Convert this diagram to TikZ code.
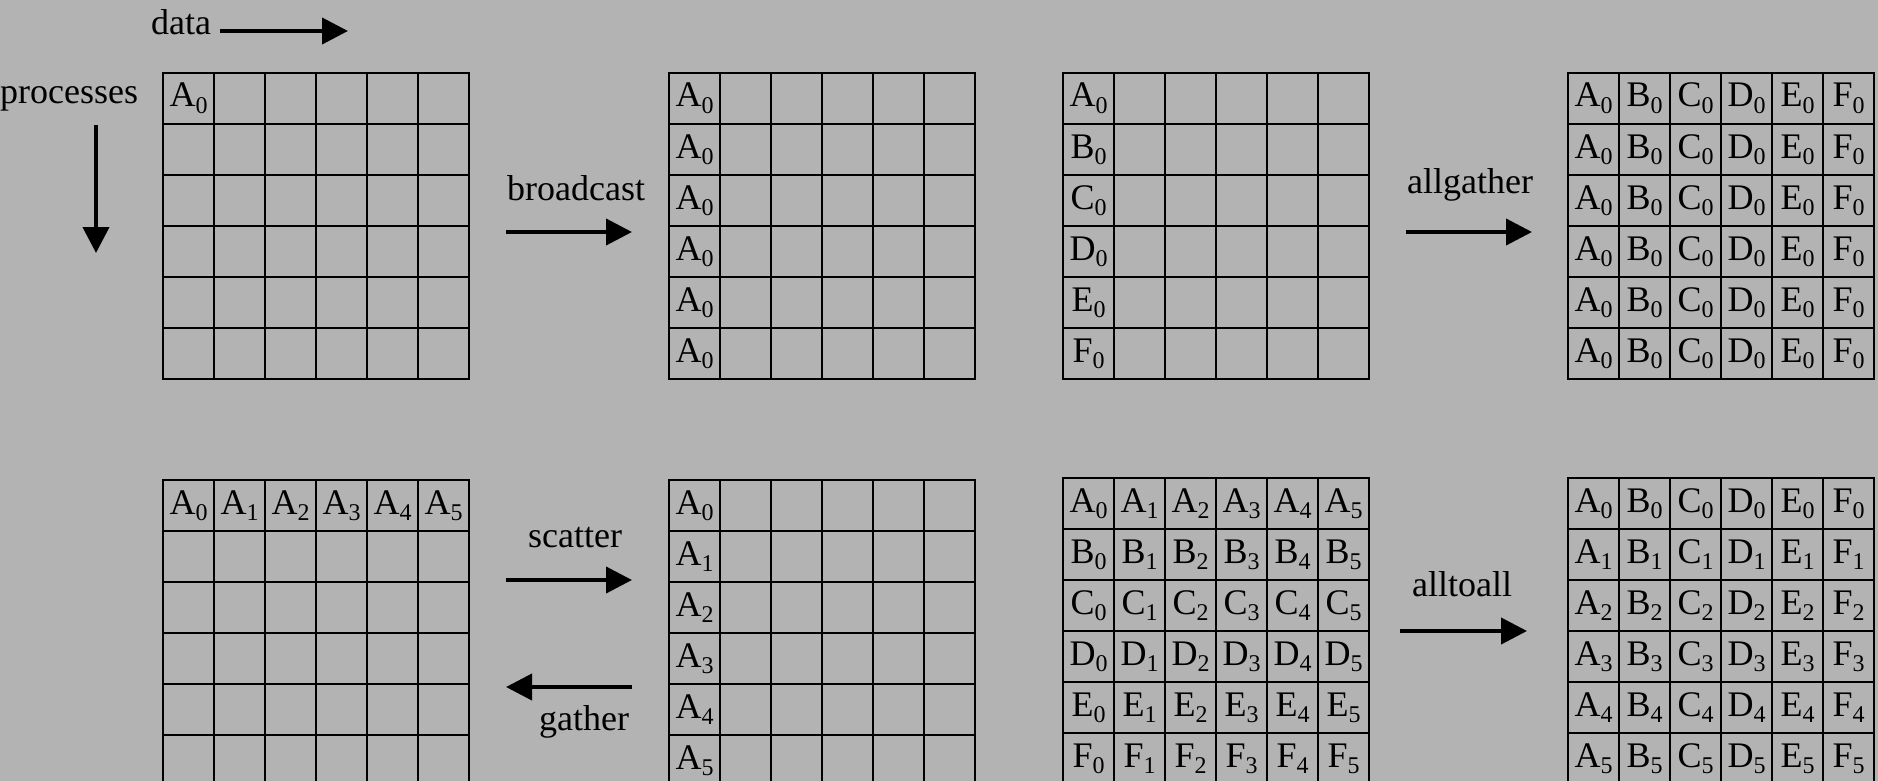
\documentclass[tikz,border=0pt]{standalone}
\usepackage{fontspec}
\setmainfont{Liberation Serif}
\usetikzlibrary{arrows.meta}
\definecolor{bg}{RGB}{179,179,179}
\newcommand\cellsub[2]{#1\raisebox{-6pt}{\fontsize{24}{24}\selectfont #2}}
\tikzset{
  gridline/.style={line width=2.5pt,black,line cap=rect},
  bigarrow/.style={line width=4pt,black,-{Triangle[length=26pt,width=26pt]}},
  lbl/.style={font=\fontsize{36}{40}\selectfont,inner sep=0pt,anchor=base west},
  celltext/.style={font=\fontsize{36}{40}\selectfont,inner sep=0pt,anchor=base},
}
\newcommand\drawgrid[2]{%
  \foreach \k in {0,...,6}{
    \draw[gridline] ({#1+51*\k},#2) -- ({#1+51*\k},{#2+306});
    \draw[gridline] (#1,{#2+51*\k}) -- ({#1+306},{#2+51*\k});
  }}
\begin{document}
\begin{tikzpicture}[x=1pt,y=-1pt]
\fill[bg] (0,0) rectangle (1878,781);
\useasboundingbox (0,0) rectangle (1878,781);
\clip (0,0) rectangle (1878,781);

% grids
\drawgrid{163}{73}
\drawgrid{669}{73}
\drawgrid{1063}{73}
\drawgrid{1568}{73}
\drawgrid{163}{480}
\drawgrid{669}{480}
\drawgrid{1063}{478}
\drawgrid{1568}{478}

% grid 1
\node[celltext] (g1a) at ({163+25.5},{73+34}) {\cellsub{A}{0}};
% grid 2: broadcast result
\foreach \r in {0,...,5}
  \node[celltext] (g2-\r) at ({669+25.5},{73+51*\r+34}) {\cellsub{A}{0}};
% grid 3
\foreach \L [count=\r from 0] in {A,B,C,D,E,F}
  \node[celltext] (g3-\r) at ({1063+25.5},{73+51*\r+34}) {\cellsub{\L}{0}};
% grid 4: allgather result
\foreach \r in {0,...,5}
  \foreach \L [count=\c from 0] in {A,B,C,D,E,F}
    \node[celltext] (g4-\r-\c) at ({1568+51*\c+25.5},{73+51*\r+34}) {\cellsub{\L}{0}};
% grid 5
\foreach \c in {0,...,5}
  \node[celltext] (g5-\c) at ({163+51*\c+25.5},{480+34}) {\cellsub{A}{\c}};
% grid 6
\foreach \r in {0,...,5}
  \node[celltext] (g6-\r) at ({669+25.5},{480+51*\r+34}) {\cellsub{A}{\r}};
% grid 7
\foreach \L [count=\r from 0] in {A,B,C,D,E,F}
  \foreach \c in {0,...,5}
    \node[celltext] (g7-\r-\c) at ({1063+51*\c+25.5},{478+51*\r+34}) {\cellsub{\L}{\c}};
% grid 8
\foreach \r in {0,...,5}
  \foreach \L [count=\c from 0] in {A,B,C,D,E,F}
    \node[celltext] (g8-\r-\c) at ({1568+51*\c+25.5},{478+51*\r+34}) {\cellsub{\L}{\r}};

% labels
\node[lbl] (tdata) at (151,35) {data};
\node[lbl] (tproc) at (0,104) {processes};
\node[lbl] (tbcast) at (507,200) {broadcast};
\node[lbl] (tallg) at (1407,193) {allgather};
\node[lbl] (tscat) at (528,547) {scatter};
\node[lbl] (tgath) at (539,730) {gather};
\node[lbl] (talltoall) at (1412,596) {alltoall};

% arrow end points
\coordinate (d1) at (220,31);   \coordinate (d2) at (348,31);
\coordinate (p1) at (96,125);   \coordinate (p2) at (96,253);
\coordinate (b1) at (506,232);  \coordinate (b2) at (632,232);
\coordinate (ag1) at (1406,232); \coordinate (ag2) at (1532,232);
\coordinate (s1) at (506,580);  \coordinate (s2) at (632,580);
\coordinate (ga1) at (632,687); \coordinate (ga2) at (506,687);
\coordinate (aa1) at (1400,631); \coordinate (aa2) at (1527,631);

\draw[bigarrow] (d1) -- (d2);
\draw[bigarrow] (p1) -- (p2);
\draw[bigarrow] (b1) -- (b2);
\draw[bigarrow] (ag1) -- (ag2);
\draw[bigarrow] (s1) -- (s2);
\draw[bigarrow] (ga1) -- (ga2);
\draw[bigarrow] (aa1) -- (aa2);
\end{tikzpicture}
\end{document}
